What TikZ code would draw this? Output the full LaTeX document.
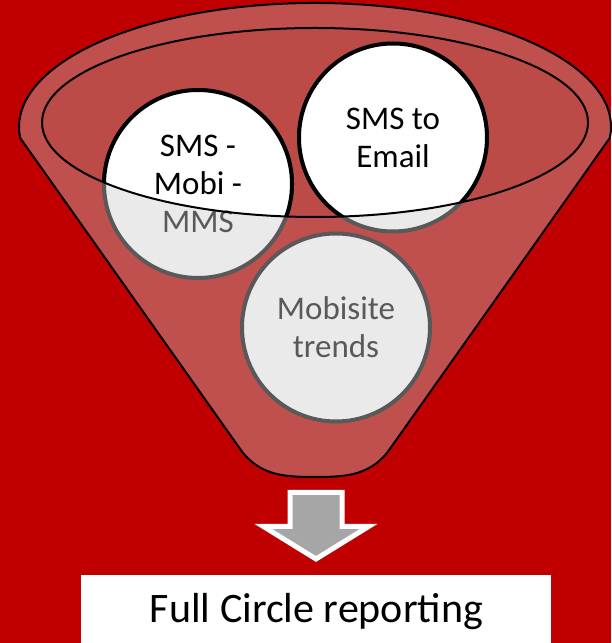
\documentclass[tikz,border=0pt]{standalone}
\usepackage{fontspec}
\setmainfont{Carlito}

\definecolor{bgred}{HTML}{C00000}
\definecolor{rimred}{HTML}{C0504D}
\definecolor{mouthred}{HTML}{BC4A47}
\definecolor{ballfill}{HTML}{EAEAEA}
\definecolor{ballline}{HTML}{595959}
\definecolor{arrowgray}{HTML}{A6A6A6}

\begin{document}
\begin{tikzpicture}[x = 1pt, y = 1pt,
    ballgray/.style = {circle, draw = ballline, fill = ballfill, text = ballline,
        line width = 4pt, minimum size = 188pt, inner sep = 0pt, align = center,
        font = \fontsize{33}{38}\selectfont},
    ballwhite/.style = {ballgray, draw = black, fill = white, text = black},
    reporttext/.style = {anchor = base, font = \fontsize{42}{50}\selectfont}]

        % Page and background.
        \useasboundingbox (0, 0) rectangle (611, 643);
        \fill[bgred] (0, 0) rectangle (611, 643);

        % Funnel body, with the rim on top.
        \draw[line width = 2pt, fill = rimred]
            (20.2, 505) -- (243, 190) to[out = -50, in = 180] (315, 166)
            to[out = 0, in = -130] (387, 190) -- (609.8, 505)
            arc[start angle = -5.1, end angle = 185.1, x radius = 296, y radius = 124]
            -- cycle;

        % Centre of the mouth of the funnel.
        \coordinate (MOUTH) at (315, 520.5);
        \fill[mouthred] (MOUTH) ellipse [x radius = 273, y radius = 94.5];

        % The three balls, as seen through the funnel.
        \node[ballgray] (sms) at (198, 459) {SMS -\\Mobi -\\MMS};
        \node[ballgray] (email) at (393, 505.5) {SMS to\\Email};
        \node[ballgray] (mobisite) at (336, 315.5) {Mobisite\\trends};

        % The parts of the balls inside the mouth.
        \begin{scope}
            \clip (MOUTH) ellipse [x radius = 273, y radius = 94.5];
            \node[ballwhite] (smsup) at (sms) {SMS -\\Mobi -\\MMS};
            \node[ballwhite] (emailup) at (email) {SMS to\\Email};
        \end{scope}

        % Edge of the mouth.
        \draw[line width = 2pt] (MOUTH) ellipse [x radius = 273, y radius = 94.5];

        % Block arrow under the funnel.
        \draw[white, line width = 5pt, fill = arrowgray, line join = miter]
            (290, 150.5) -- (342, 150.5) -- (342, 116.5) -- (368.6, 116.5)
            -- (316, 84) -- (263.4, 116.5) -- (290, 116.5) -- cycle;

        % Result box and its text.
        \fill[white] (81, 0) rectangle (551, 68);
        \node[reporttext] (report) at (316.5, 20) {Full Circle reporting};
    \end{tikzpicture}
\end{document}
